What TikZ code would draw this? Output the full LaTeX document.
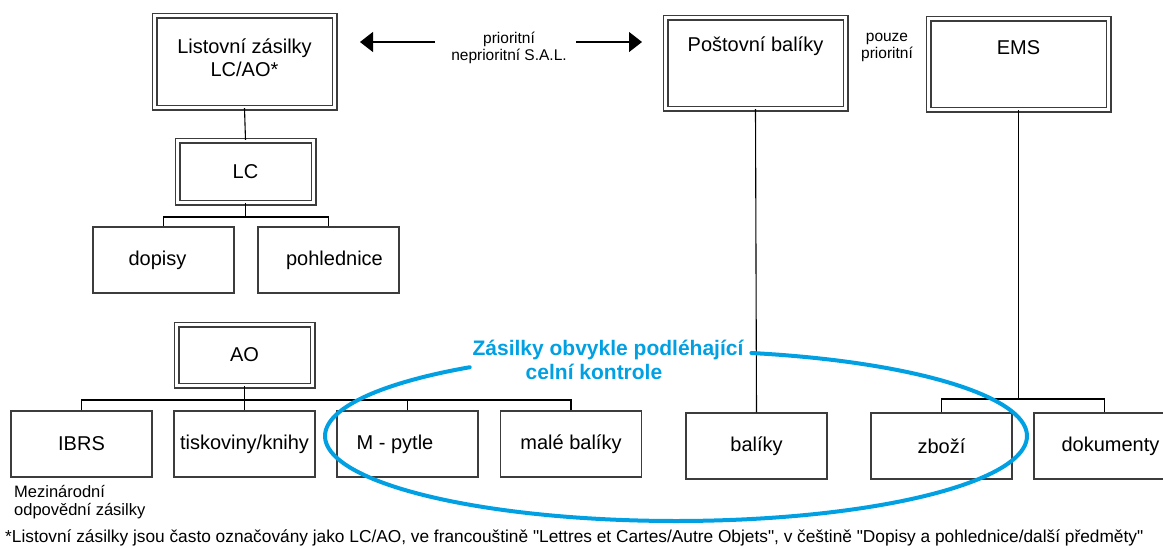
\documentclass[tikz,border=0pt]{standalone}
\usepackage{fontspec}
\setmainfont{Liberation Sans}[Ligatures=TeXOff]
\usetikzlibrary{arrows.meta}
\definecolor{cblue}{RGB}{0,160,227}
\definecolor{bord}{RGB}{60,60,60}
\begin{document}
\begin{tikzpicture}[x=1pt,y=-1pt,
  box/.style={draw=bord, line width=1.3pt, minimum width=141pt, minimum height=66pt,
    inner sep=0pt, font=\fontsize{20}{24}\selectfont},
  dbox/.style={draw=bord, double=white, double distance=3.6pt, line width=1.2pt,
    inner sep=0pt, align=center, font=\fontsize{20}{23}\selectfont},
  txt/.style={inner sep=0pt, align=center, font=\fontsize{20}{23}\selectfont},
  small/.style={inner sep=0pt, align=center, font=\fontsize{15.5}{17}\selectfont},
  note/.style={inner sep=0pt, align=left, font=\fontsize{16.5}{18}\selectfont},
  conn/.style={draw=black, line width=1.1pt},
  bigarrow/.style={draw=black, line width=1.2pt, -{Triangle[length=13pt,width=20pt]}},
  blue text/.style={inner sep=0pt, align=center, text=cblue, font=\bfseries\fontsize{21}{24}\selectfont}
]
\useasboundingbox (0,0) rectangle (1163,547);

% top level
\node[dbox, minimum width=180pt, minimum height=92pt] (lz) at (244.5,61.5) {};
\node[txt] (lzt) at (244.5,58) {Listovní zásilky\\LC/AO*};
\node[dbox, minimum width=180pt, minimum height=91pt] (pb) at (755.5,63) {};
\node[txt] (pbt) at (755.5,46) {Poštovní balíky};
\node[dbox, minimum width=180pt, minimum height=91pt] (ems) at (1018.5,64) {};
\node[txt] (emst) at (1018.5,48) {EMS};

\node[small] (prio) at (509,48) {prioritní\\neprioritní S.A.L.};
\node[small] (pouze) at (887,47) {pouze\\prioritní};
\coordinate (aL1) at (435,42);
\coordinate (aL2) at (360,42);
\coordinate (aR1) at (576,42);
\coordinate (aR2) at (642,42);
\draw[bigarrow] (aL1) -- (aL2);
\draw[bigarrow] (aR1) -- (aR2);

% LC branch
\node[dbox, minimum width=136pt, minimum height=62pt] (lc) at (245.5,171.5) {LC};
\node[box] (dop) at (163.5,260) {\hspace*{-12pt}dopisy};
\node[box] (pohl) at (328.5,260) {\hspace*{12pt}pohlednice};
\coordinate (barLC) at (0,217);
\draw[conn] (lz.south) -- (lc.north);
\draw[conn] (lc.south) -- (lc.south |- barLC) -| (dop.north);
\draw[conn] (lc.south |- barLC) -| (pohl.north);

% AO branch
\node[dbox, minimum width=136pt, minimum height=61pt] (ao) at (244.5,355) {AO};
\node[box] (ibrs) at (81.5,444) {IBRS};
\node[box] (tisk) at (244.5,444) {tiskoviny/knihy};
\node[box] (mp) at (407.5,444) {};
\node[txt] (mpt) at (395,444) {M - pytle};
\node[box] (mb) at (571,444) {malé balíky};
\coordinate (barAO) at (0,400);
\draw[conn] (ao.south) -- (ao.south |- barAO);
\draw[conn] (ibrs.north) |- (ao.south |- barAO) -| (mb.north);
\draw[conn] (tisk.north) -- (tisk.north |- barAO);
\draw[conn] (mp.north) -- (mp.north |- barAO);

\node[note, anchor=north west] (mez) at (14,485) {Mezinárodní\\odpovědní zásilky};

% parcels
\node[box] (bal) at (756.5,446) {balíky};
\draw[conn] (pb.south) -- (bal.north);

% EMS branch
\node[box] (zb) at (941.5,446) {zboží};
\node[box] (dok) at (1104.5,446) {\hspace*{12pt}dokumenty};
\coordinate (barEMS) at (0,399);
\draw[conn] (ems.south) -- (ems.south |- barEMS);
\draw[conn] (zb.north) |- (ems.south |- barEMS) -| (dok.north);

% customs ellipse
\node[blue text] (cust) at (608,360) {Zásilky obvykle podléhající\\\hspace*{-28pt}celní kontrole};
\draw[cblue, line width=4pt, line cap=round] plot[domain=126:437.6, samples=150, smooth]
  ({676+351*cos(\x)}, {436-85*sin(\x)});

% footnote
\node[note, anchor=base west, font=\fontsize{17.3}{19}\selectfont] (foot) at (5,542) {*Listovní zásilky jsou často označovány jako LC/AO, ve francouštině "Lettres et Cartes/Autre Objets", v češtině "Dopisy a pohlednice/další předměty"};
\end{tikzpicture}
\end{document}
